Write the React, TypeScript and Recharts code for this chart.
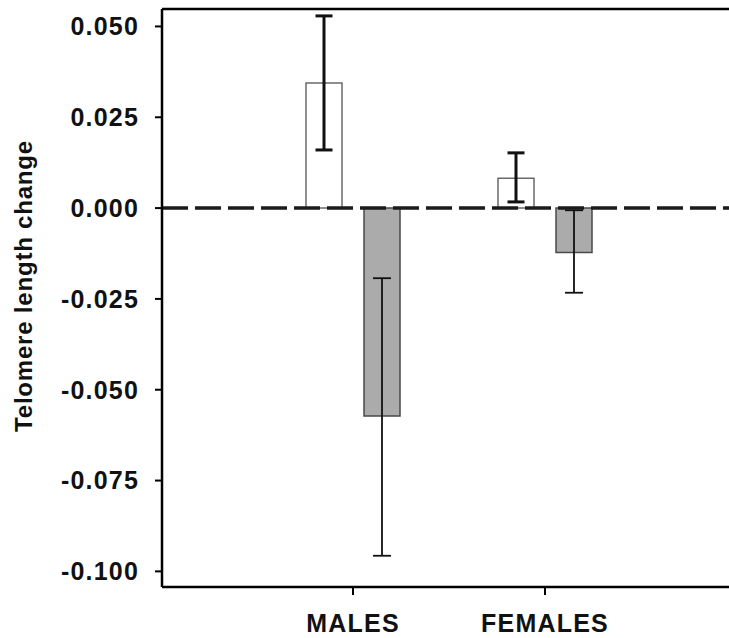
import { Bar, BarChart, ErrorBar, Label, ReferenceLine, XAxis, YAxis } from 'recharts';

const categories = ['MALES', 'FEMALES'];
const openMean = [0.0344, 0.0082];
const openLow = [0.016, 0.0017];
const openHigh = [0.0529, 0.0152];
const greyMean = [-0.0572, -0.0122];
const greyLow = [-0.0957, -0.0233];
const greyHigh = [-0.0193, -0.0006];
const yTicks = [-0.1, -0.075, -0.05, -0.025, 0, 0.025, 0.05];

const data = categories.map((name, i) => ({
  name,
  open: openMean[i],
  openErr: [openMean[i] - openLow[i], openHigh[i] - openMean[i]],
  grey: greyMean[i],
  greyErr: [greyMean[i] - greyLow[i], greyHigh[i] - greyMean[i]],
}));

const font = '"Liberation Sans", Arial, sans-serif';
const tickStyle = { fill: '#111', fontSize: 25, fontWeight: 700, fontFamily: font, letterSpacing: 1.2 };

const renderYLabel = (props: any) => {
  const vb = props.viewBox;
  const cx = vb.x + 23;
  const cy = vb.y + vb.height / 2 - 12;
  return (
    <text
      x={cx}
      y={cy}
      transform={`rotate(-90, ${cx}, ${cy})`}
      textAnchor="middle"
      dominantBaseline="central"
      fill="#111"
      fontSize={24}
      fontWeight={700}
      fontFamily={font}
      letterSpacing={0.8}
    >
      Telomere length change
    </text>
  );
};

export default function App() {
  return (
    <div style={{ position: 'absolute', left: 0, top: 0, width: 729, height: 638, overflow: 'hidden', background: '#fff' }}>
      <BarChart
        width={740}
        height={638}
        data={data}
        margin={{ top: 8, right: 3, left: 0, bottom: 0 }}
        barSize={36}
        barGap={22}
      >
        <XAxis
          dataKey="name"
          height={51}
          padding={{ left: 95, right: 96 }}
          tick={tickStyle}
          tickSize={8}
          tickMargin={19}
          axisLine={{ stroke: '#000', strokeWidth: 2.5 }}
          tickLine={{ stroke: '#000', strokeWidth: 2 }}
        />
        <XAxis
          xAxisId="top"
          orientation="top"
          dataKey="name"
          height={1}
          tick={false}
          tickLine={false}
          axisLine={{ stroke: '#000', strokeWidth: 2.5 }}
        />
        <YAxis
          width={162}
          domain={[-0.1043, 0.0548]}
          ticks={yTicks}
          tickFormatter={(v: number) => v.toFixed(3)}
          tick={tickStyle}
          tickSize={7}
          tickMargin={16}
          axisLine={{ stroke: '#000', strokeWidth: 2.5 }}
          tickLine={{ stroke: '#000', strokeWidth: 2 }}
          allowDataOverflow
        >
          <Label content={renderYLabel} />
        </YAxis>
        <Bar dataKey="open" fill="#ffffff" stroke="#6a6a6a" strokeWidth={1.5} isAnimationActive={false}>
          <ErrorBar dataKey="openErr" direction="y" width={8.5} stroke="#111" strokeWidth={3} />
        </Bar>
        <Bar dataKey="grey" fill="#ababab" stroke="#4a4a4a" strokeWidth={1.5} isAnimationActive={false}>
          <ErrorBar dataKey="greyErr" direction="y" width={9} stroke="#111" strokeWidth={1.8} />
        </Bar>
        <ReferenceLine y={0} stroke="#1a1a1a" strokeWidth={3.5} strokeDasharray="26 7" />
      </BarChart>
    </div>
  );
}
